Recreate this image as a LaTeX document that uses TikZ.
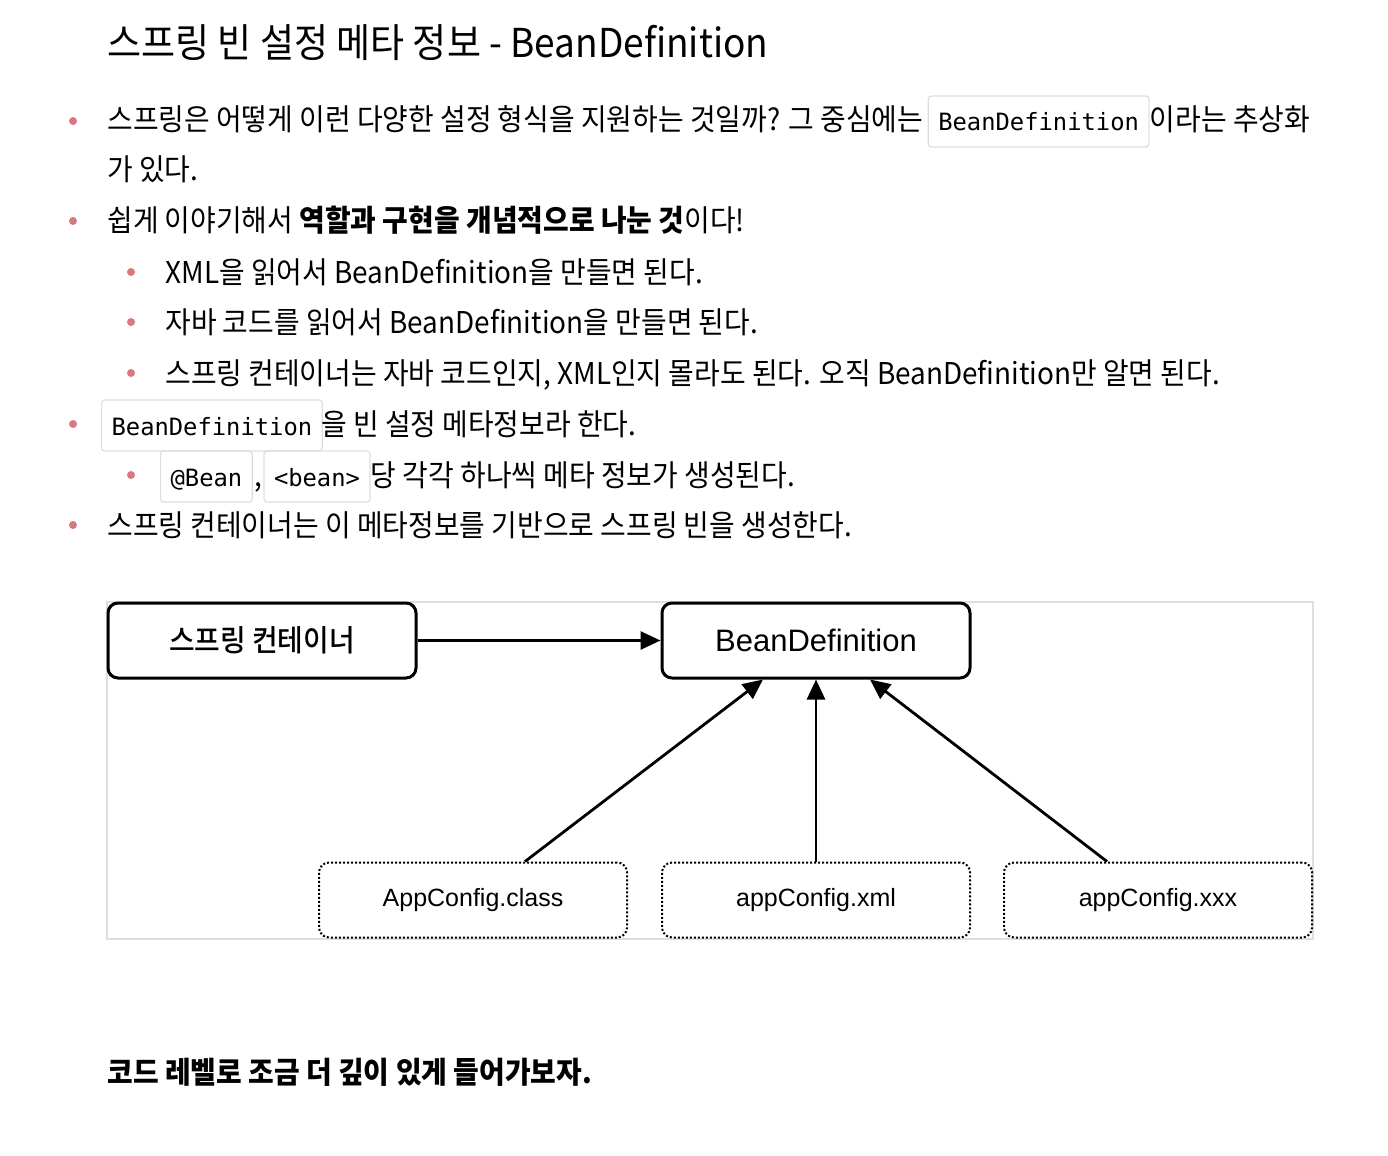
\documentclass[tikz,border=0pt]{standalone}
\usepackage{fontspec}
\setmainfont{Noto Sans CJK KR}[FakeStretch=0.93]
\newfontfamily\codefont{DejaVu Sans Mono}
\newfontfamily\figfont{Liberation Sans}
\newfontfamily\figkr{Noto Sans CJK KR Medium}[FakeStretch=0.93]
\usetikzlibrary{arrows.meta}
\usetikzlibrary{calc,positioning}
\definecolor{bulletred}{RGB}{215,122,128}
\definecolor{codeline}{RGB}{222,222,222}

\begin{document}
\begin{tikzpicture}[x=0.5pt, y=-0.5pt, >=Stealth,
    txt/.style = {anchor=base west, inner sep=0pt, font=\fontsize{15pt}{18pt}\selectfont},
    code/.style = {anchor=base west, draw=codeline, line width=0.6pt, rounded corners=1.5pt,
        inner xsep=5pt, inner ysep=0pt, text height=17.5pt, text depth=8pt,
        font=\codefont\fontsize{11.9pt}{14pt}\selectfont},
    box/.style = {draw, line width=1.5pt, rounded corners=5pt, minimum width=154pt, minimum height=37.5pt},
    srcbox/.style = {draw, line width=1pt, densely dotted, rounded corners=5pt, minimum width=154pt, minimum height=37.5pt,
        font=\figfont\fontsize{12.5pt}{15pt}\selectfont},
    conn/.style = {line width=1.4pt, -{Triangle[length=10pt, width=9pt]}}]

    \useasboundingbox (0,0) rectangle (1388,1156);

    % title
    \node[txt, font=\fontsize{19.9pt}{24pt}\selectfont] (title) at (107,58) {스프링 빈 설정 메타 정보 - BeanDefinition};

    % bullets
    \foreach \y in {121,221,424,525} \fill[bulletred] (73,\y) circle (2pt);
    \foreach \y in {272,322,373,475} \fill[bulletred] (131,\y) circle (2pt);

    \node[txt] (l1a) at (107,131) {스프링은 어떻게 이런 다양한 설정 형식을 지원하는 것일까? 그 중심에는};
    \node[code] (c1) at ([xshift=2pt]l1a.base east) {BeanDefinition};
    \node[txt] (l1b) at (c1.base east) {이라는 추상화};
    \node[txt] (l2) at (107,181) {가 있다.};

    \node[txt] (l3) at (107,232) {쉽게 이야기해서 \textbf{역할과 구현을 개념적으로 나눈 것}이다!};
    \node[txt] (l4) at (165,283) {XML을 읽어서 BeanDefinition을 만들면 된다.};
    \node[txt] (l5) at (165,333) {자바 코드를 읽어서 BeanDefinition을 만들면 된다.};
    \node[txt] (l6) at (165,384) {스프링 컨테이너는 자바 코드인지, XML인지 몰라도 된다. 오직 BeanDefinition만 알면 된다.};

    \node[code] (c2) at (101,435) {BeanDefinition};
    \node[txt] (l7) at ([xshift=-1pt]c2.base east) {을 빈 설정 메타정보라 한다.};

    \node[code] (c3) at (160,486) {@Bean};
    \node[txt] (comma) at ([xshift=0.5pt]c3.base east) {,};
    \node[code] (c4) at ([xshift=0.5pt]comma.base east) {<bean>};
    \node[txt] (l8) at (c4.base east) {당 각각 하나씩 메타 정보가 생성된다.};

    \node[txt] (l9) at (107,536) {스프링 컨테이너는 이 메타정보를 기반으로 스프링 빈을 생성한다.};

    % diagram
    \draw[codeline, line width=1pt] (107,602) rectangle (1313,939);

    \node[box, font=\figkr\fontsize{15pt}{17pt}\selectfont] (spring) at (262,640.5) {스프링 컨테이너};
    \node[box, font=\figfont\fontsize{15.5pt}{18pt}\selectfont] (bd) at (816,640.5) {BeanDefinition};

    \node[srcbox] (cls) at (473,900) {AppConfig.class};
    \node[srcbox] (xml) at (816,900) {appConfig.xml};
    \node[srcbox] (xxx) at (1158,900) {appConfig.xxx};

    \draw[conn] (spring) -- (bd);
    \draw[conn] ([xshift=26pt]cls.north) -- ([xshift=-26.5pt]bd.south);
    \draw[conn] (xml.north) -- (bd.south);
    \draw[conn] ([xshift=-25.5pt]xxx.north) -- ([xshift=27pt]bd.south);

    \node[txt, font=\bfseries\fontsize{15pt}{18pt}\selectfont] (last) at (107,1083) {코드 레벨로 조금 더 깊이 있게 들어가보자.};

\end{tikzpicture}
\end{document}
